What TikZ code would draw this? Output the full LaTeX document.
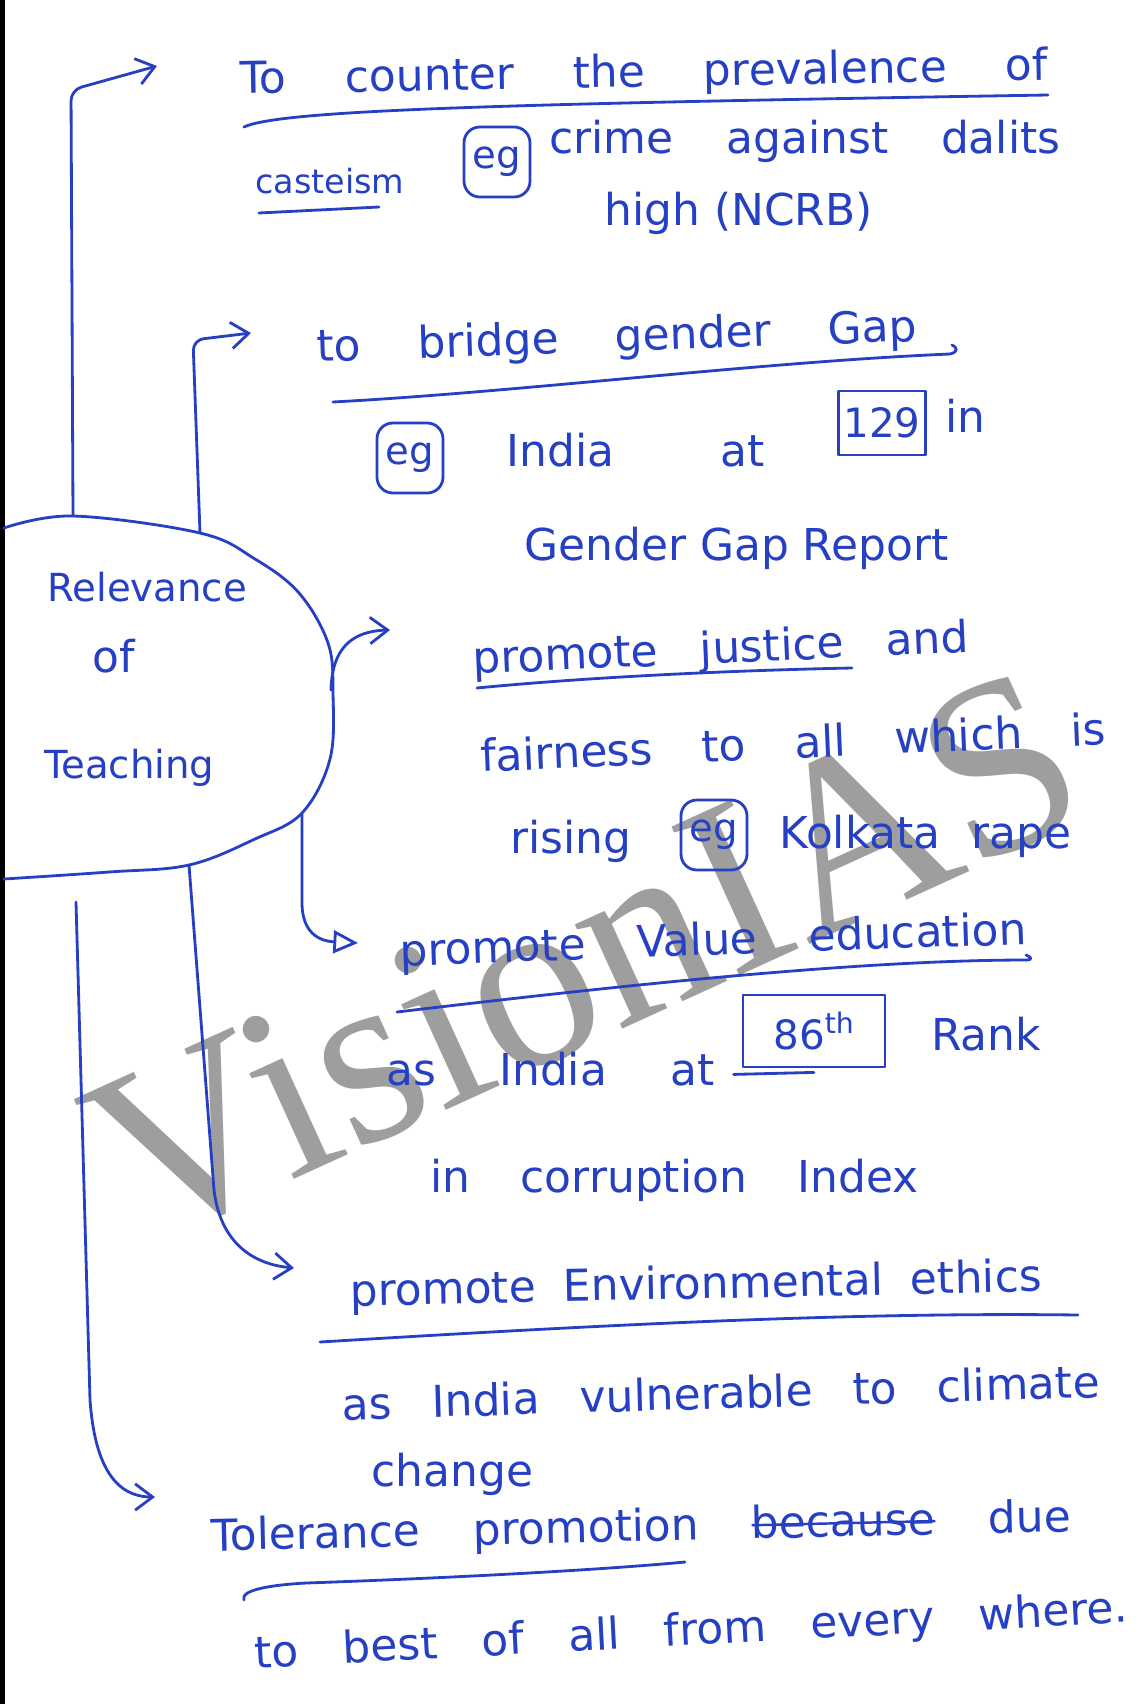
\documentclass[tikz,border=0pt]{standalone}
\usepackage{fontspec}
\usepackage{tikz}
\usetikzlibrary{calc}
\usetikzlibrary{arrows.meta}
\setmainfont{DejaVu Sans}
\newfontfamily\markfont{Liberation Serif}
\definecolor{penblue}{rgb}{0.15,0.25,0.77}
\definecolor{markgray}{rgb}{0.62,0.62,0.62}
\newlength{\pxu}
\setlength{\pxu}{0.02cm}
\newsavebox{\strikebox}
\newcommand{\spreadline}[2]{\makebox[#1\pxu][s]{#2}}
\newcommand{\strikeout}[1]{\sbox{\strikebox}{#1}\rlap{\usebox{\strikebox}}\rule[0.28em]{\wd\strikebox}{1.4pt}}
\tikzstyle{every node}=[font=\fontsize{25}{30}\selectfont]
\tikzstyle{hand}=[text=penblue,inner sep=0pt,anchor=base west]
\tikzstyle{pen}=[color=penblue,line width=1.6pt]
\tikzstyle{egmark}=[draw=penblue,line width=1.6pt,text=penblue,rounded corners=9pt,inner sep=2pt,minimum width=66\pxu,minimum height=70\pxu,font=\fontsize{22}{26}\selectfont]
\tikzstyle{rankbox}=[draw=penblue,line width=1.6pt,text=penblue,inner sep=3pt,minimum height=64\pxu,font=\fontsize{23}{26}\selectfont]

\begin{document}
\begin{tikzpicture}[line cap=round,line join=round,>={Straight Barb[length=10pt,width=15pt]},x=0.02cm,y=-0.02cm]
\useasboundingbox (0,0) rectangle (1142,1704);
\fill[white] (0,0) rectangle (1142,1704);
% watermark
\node[text=markgray,font=\markfont\fontsize{142}{142}\selectfont,rotate=24.5] (mark) at (585,958) {VisionIAS};
\draw[line width=2.5pt] (2.5,0) -- (2.5,1704);
% centre blob
\draw[pen] plot[smooth,tension=0.6] coordinates {(4,528) (73,516) (200,533) (255,559) (299,593) (328,643) (333,693) (330,759) (302,813) (255,839) (189,865) (109,872) (4,879)};
\coordinate (top1) at (73,516);
\coordinate (top2) at (200,533);
\coordinate (side) at (331,690);
\coordinate (bot1) at (302,813);
\coordinate (bot2) at (189,865);
\coordinate (bot3) at (76,902);
\node[hand,font=\fontsize{22}{26}\selectfont] (relA) at (47,601) {Relevance};
\node[hand] (relB) at (92,672) {of};
\node[hand,font=\fontsize{22}{26}\selectfont] (relC) at (44,778) {Teaching};
% arrow tips
\coordinate (tip1) at (157,66);
\coordinate (tip2) at (251,333);
\coordinate (tip3) at (390,630);
\coordinate (tip4) at (358,943);
\coordinate (tip5) at (294,1268);
\coordinate (tip6) at (155,1497);
\draw[pen,->,rounded corners=6pt] (top1) -- (71,90) -- (tip1);
\draw[pen,->,rounded corners=6pt] (top2) -- (193,340) -- (tip2);
\draw[pen,->] (side) .. controls (332,648) and (352,631) .. (tip3);
\draw[pen,-{Triangle[open,length=14pt,width=13pt]}] (bot1) -- (302,905) .. controls (303,932) and (318,941) .. (tip4);
\draw[pen,->] (bot2) -- (214,1190) .. controls (220,1240) and (250,1264) .. (tip5);
\draw[pen,->] (bot3) -- (90,1400) .. controls (95,1470) and (118,1497) .. (tip6);
% branch 1
\node[hand,rotate=1] (counter) at (240,94) {\spreadline{808}{To counter the prevalence of}};
\draw[pen] (244,127) .. controls (280,110) and (500,104) .. (1048,95);
\node[hand,font=\fontsize{19}{24}\selectfont] (caste) at (255,193) {casteism};
\draw[pen] (259,213) -- (379,207);
\node[egmark] (eg1) at (497,162) {eg};
\node[hand] (crime) at (549,153) {\spreadline{511}{crime against dalits}};
\node[hand] (ncrb) at (604,225) {high (NCRB)};
% branch 2
\node[hand,rotate=2] (bridge) at (317,362) {\spreadline{600}{to bridge gender Gap}};
\draw[pen] (333,402) .. controls (520,392) and (760,362) .. (950,354) .. controls (958,352) and (958,348) .. (952,345);
\node[egmark] (eg2) at (410,458) {eg};
\node[hand] (india) at (506,466) {\spreadline{258}{India at}};
\node[rankbox,minimum width=84\pxu] (gap129) at (882,423) {129};
\node[hand] (inword) at (945,432) {in};
\node[hand] (report) at (524,560) {Gender Gap Report};
% branch 3
\node[hand,rotate=2.5] (justice) at (473,674) {\spreadline{496}{promote justice and}};
\draw[pen] (477,688) .. controls (600,676) and (750,670) .. (852,668);
\node[hand,rotate=2.5] (fair) at (481,772) {\spreadline{626}{fairness to all which is}};
\node[hand] (rising) at (510,853) {rising};
\node[egmark] (eg3) at (714,835) {eg};
\node[hand] (kolkata) at (779,848) {\spreadline{292}{Kolkata rape}};
% branch 4
\node[hand,rotate=2] (value) at (400,966) {\spreadline{627}{promote Value education}};
\draw[pen] (397,1012) .. controls (600,988) and (850,960) .. (1027,960) .. controls (1032,960) and (1032,957) .. (1026,955);
\node[hand] (asindia) at (386,1085) {\spreadline{328}{as India at}};
\node[rankbox,minimum width=142\pxu,minimum height=72\pxu] (rank86) at (814,1031) {86\textsuperscript{th}};
\draw[pen] ($(rank86.south west)+(-8,6)$) -- ($(rank86.south)+(0,4)$);
\node[hand] (rank) at (931,1050) {Rank};
\node[hand] (corrupt) at (430,1192) {\spreadline{488}{in corruption Index}};
% branch 5
\node[hand,rotate=1.2] (env) at (350,1306) {\spreadline{692}{promote Environmental ethics}};
\draw[pen] (320,1342) .. controls (600,1325) and (850,1312) .. (1078,1315);
\node[hand,rotate=1.7] (climate) at (342,1420) {\spreadline{758}{as India vulnerable to climate}};
\node[hand] (change) at (371,1486) {change};
% branch 6
\node[hand,rotate=1.3] (tolerance) at (211,1551) {\spreadline{860}{Tolerance promotion \strikeout{because} due}};
\draw[pen] (244,1600) .. controls (240,1590) and (270,1585) .. (306,1583) .. controls (450,1578) and (600,1570) .. (685,1562);
\node[hand,rotate=3] (best) at (255,1668) {\spreadline{874}{to best of all from every where.}};
\end{tikzpicture}
\end{document}
